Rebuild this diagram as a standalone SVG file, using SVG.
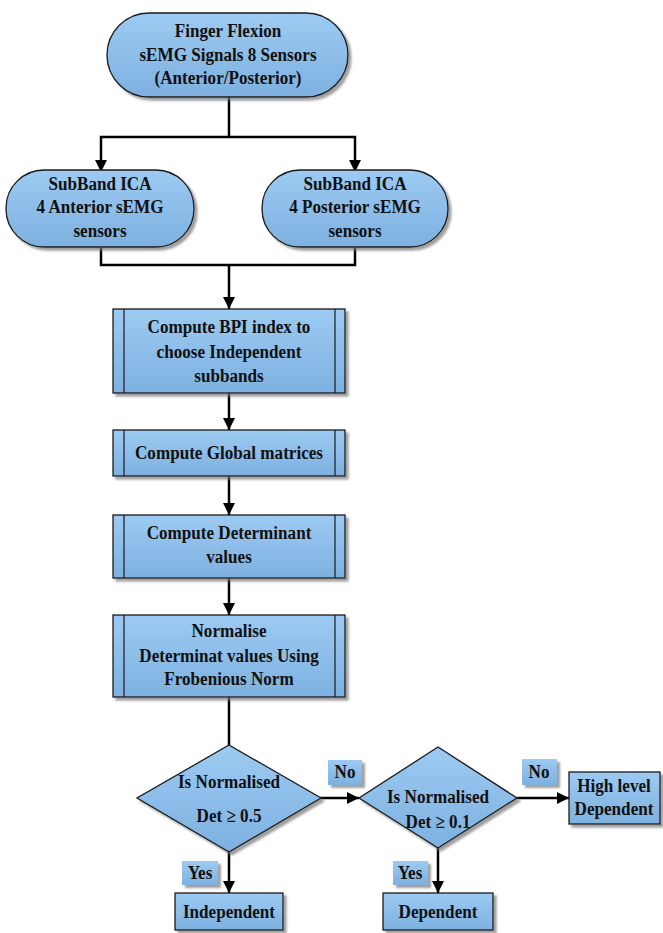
<svg xmlns="http://www.w3.org/2000/svg" width="663" height="933" viewBox="0 0 663 933">
<defs>
<linearGradient id="g" x1="0" y1="0" x2="0" y2="1">
<stop offset="0" stop-color="#9ccaf2"/>
<stop offset="1" stop-color="#7eb1e0"/>
</linearGradient>
<filter id="sh" x="-10%" y="-10%" width="130%" height="130%">
<feDropShadow dx="3" dy="3" stdDeviation="1" flood-color="#777" flood-opacity="0.7"/>
</filter>
<marker id="ah" viewBox="0 0 10 10" refX="10" refY="5" markerWidth="5" markerHeight="5" markerUnits="strokeWidth" orient="auto">
<path d="M0,0 L10,5 L0,10 z" fill="#000"/>
</marker>
<style>
.n{fill:url(#g);stroke:#1a1a1a;stroke-width:1.3;filter:url(#sh)}
.lb{fill:url(#g);stroke:none;filter:url(#sh)}
.in{stroke:#1a1a1a;stroke-width:1.2;fill:none}
.t{font-family:"Liberation Serif","Times New Roman",serif;font-weight:bold;font-size:19px;fill:#111;text-anchor:middle}
.c{stroke:#000;stroke-width:2.5;fill:none}
.a{stroke:#000;stroke-width:2.5;fill:none;marker-end:url(#ah)}
</style>
</defs>

<g id="connectors">
<polyline class="c" points="229,97 229,137"/>
<polyline class="a" points="229,137 101,137 101,172"/>
<polyline class="a" points="229,137 355,137 355,172"/>
<polyline class="c" points="101,247 101,265 355,265 355,247"/>
<polyline class="a" points="229,265 229,309"/>
<polyline class="a" points="229,393 229,430"/>
<polyline class="a" points="229,476 229,515"/>
<polyline class="a" points="229,578 229,615"/>
<polyline class="c" points="229,697 229,745"/>
<polyline class="a" points="320,798 359,798"/>
<polyline class="a" points="517,798 569,798"/>
<polyline class="a" points="229,852 229,893"/>
<polyline class="a" points="438,848 438,893"/>
</g>

<g id="start">
<rect class="n" x="107" y="13" width="241" height="84" rx="42"/>
<text class="t" transform="matrix(0.9 0 0 1 228 37)">Finger Flexion</text>
<text class="t" transform="matrix(0.9 0 0 1 228 61)">sEMG Signals 8 Sensors</text>
<text class="t" transform="matrix(0.9 0 0 1 228 84)">(Anterior/Posterior)</text>
</g>

<g id="ica-anterior">
<rect class="n" x="6" y="170" width="188" height="77" rx="38"/>
<text class="t" transform="matrix(0.9 0 0 1 100 190)">SubBand ICA</text>
<text class="t" transform="matrix(0.9 0 0 1 100 213)">4 Anterior sEMG</text>
<text class="t" transform="matrix(0.9 0 0 1 100 237)">sensors</text>
</g>

<g id="ica-posterior">
<rect class="n" x="262" y="170" width="186" height="77" rx="38"/>
<text class="t" transform="matrix(0.9 0 0 1 355 190)">SubBand ICA</text>
<text class="t" transform="matrix(0.9 0 0 1 355 213)">4 Posterior sEMG</text>
<text class="t" transform="matrix(0.9 0 0 1 355 237)">sensors</text>
</g>

<g id="bpi">
<rect class="n" x="113" y="309" width="232" height="84"/>
<line class="in" x1="124" y1="309" x2="124" y2="393"/>
<line class="in" x1="335" y1="309" x2="335" y2="393"/>
<text class="t" transform="matrix(0.9 0 0 1 229 333)">Compute BPI index to</text>
<text class="t" transform="matrix(0.9 0 0 1 229 358)">choose Independent</text>
<text class="t" transform="matrix(0.9 0 0 1 229 382)">subbands</text>
</g>

<g id="global">
<rect class="n" x="113" y="430" width="232" height="46"/>
<line class="in" x1="124" y1="430" x2="124" y2="476"/>
<line class="in" x1="335" y1="430" x2="335" y2="476"/>
<text class="t" transform="matrix(0.9 0 0 1 229 459)">Compute Global matrices</text>
</g>

<g id="determinant">
<rect class="n" x="113" y="515" width="232" height="63"/>
<line class="in" x1="124" y1="515" x2="124" y2="578"/>
<line class="in" x1="335" y1="515" x2="335" y2="578"/>
<text class="t" transform="matrix(0.9 0 0 1 229 539)">Compute Determinant</text>
<text class="t" transform="matrix(0.9 0 0 1 229 563)">values</text>
</g>

<g id="normalise">
<rect class="n" x="113" y="615" width="232" height="82"/>
<line class="in" x1="124" y1="615" x2="124" y2="697"/>
<line class="in" x1="335" y1="615" x2="335" y2="697"/>
<text class="t" transform="matrix(0.9 0 0 1 229 637)">Normalise</text>
<text class="t" transform="matrix(0.9 0 0 1 229 662)">Determinat values Using</text>
<text class="t" transform="matrix(0.9 0 0 1 229 685)">Frobenious Norm</text>
</g>

<g id="decision1">
<polygon class="n" points="229,745 321,798 229,852 137,798"/>
<text class="t" transform="matrix(0.9 0 0 1 229 788)">Is Normalised</text>
<text class="t" transform="matrix(0.9 0 0 1 229 822)">Det ≥ 0.5</text>
</g>

<g id="decision2">
<polygon class="n" points="438,747 517,798 438,848 359,798"/>
<text class="t" transform="matrix(0.9 0 0 1 438 803)">Is Normalised</text>
<text class="t" transform="matrix(0.9 0 0 1 438 828)">Det ≥ 0.1</text>
</g>

<g id="high-level">
<rect class="n" x="569" y="772" width="91" height="52"/>
<text class="t" transform="matrix(0.9 0 0 1 614 792)">High level</text>
<text class="t" transform="matrix(0.9 0 0 1 614 815)">Dependent</text>
</g>

<g id="independent">
<rect class="n" x="175" y="893" width="108" height="37"/>
<text class="t" transform="matrix(0.9 0 0 1 229 918)">Independent</text>
</g>

<g id="dependent">
<rect class="n" x="383" y="893" width="110" height="37"/>
<text class="t" transform="matrix(0.9 0 0 1 438 918)">Dependent</text>
</g>

<g id="labels">
<rect class="lb" x="182" y="861" width="36" height="24"/>
<text class="t" transform="matrix(0.9 0 0 1 200 879)">Yes</text>
<rect class="lb" x="393" y="861" width="35" height="24"/>
<text class="t" transform="matrix(0.9 0 0 1 410 879)">Yes</text>
<rect class="lb" x="328" y="760" width="34" height="25"/>
<text class="t" transform="matrix(0.9 0 0 1 345 778)">No</text>
<rect class="lb" x="522" y="759" width="35" height="26"/>
<text class="t" transform="matrix(0.9 0 0 1 539 778)">No</text>
</g>
</svg>
